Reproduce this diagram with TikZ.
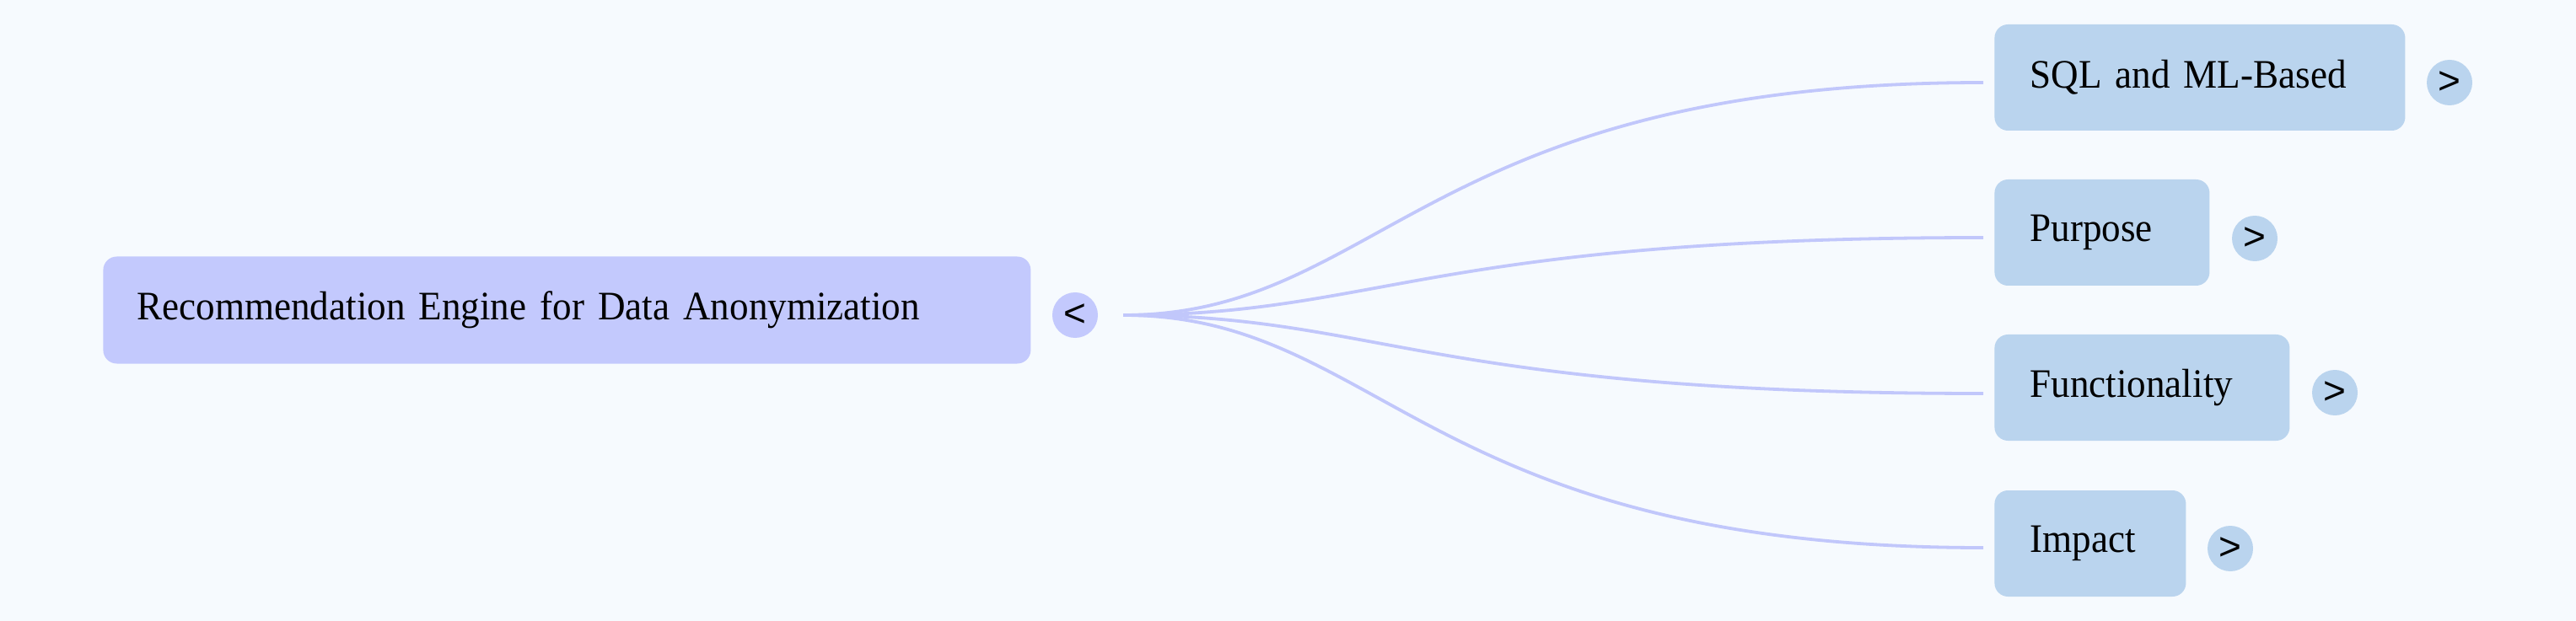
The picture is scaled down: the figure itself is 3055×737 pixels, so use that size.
\documentclass[tikz,border=0pt]{standalone}
\usepackage{fontspec}
\usetikzlibrary{calc}
\setmainfont{Liberation Serif}[FakeStretch=0.94]
\newfontfamily\arrowfont{Liberation Sans}
\definecolor{bgc}{HTML}{F6FAFE}
\definecolor{rootc}{HTML}{C3C9FD}
\definecolor{kidc}{HTML}{BAD4EE}
\definecolor{linec}{HTML}{C1C7FB}
\tikzset{
  rootbox/.style={anchor=west, fill=rootc, rounded corners=8pt, minimum height=63.5pt,
    inner xsep=20pt, inner ysep=0pt, align=left, font=\fontsize{24}{28}\selectfont},
  kidbox/.style={anchor=west, fill=kidc, rounded corners=8pt, minimum height=63pt,
    inner xsep=21pt, inner ysep=0pt, align=left, font=\fontsize{24}{28}\selectfont},
  rootknob/.style={circle, fill=rootc, minimum size=27pt, inner sep=0pt, font=\arrowfont\fontsize{23}{23}\selectfont},
  kidknob/.style={circle, fill=kidc, minimum size=27pt, inner sep=0pt, font=\arrowfont\fontsize{23}{23}\selectfont},
  link/.style={draw=linec, line width=1.9pt}
}
\begin{document}
\begin{tikzpicture}[x=0.5pt, y=-0.5pt]
\fill[bgc] (0,0) rectangle (3055,737);
\useasboundingbox (0,0) rectangle (3055,737);

\node[rootbox, text width=510pt] (root) at (122,368) {Recommendation Engine for Data Anonymization};
\node[rootknob] (rk) at (1275,374) {<};

\node[kidbox, text width=201.5pt] (sql) at (2365,92) {SQL and ML-Based};
\node[kidbox, text width=85.5pt] (purpose) at (2365,276) {Purpose};
\node[kidbox, text width=133pt] (func) at (2365,460) {Functionality};
\node[kidbox, text width=71.5pt] (impact) at (2365,645) {Impact};

\node[kidknob] (k1) at (2905,98) {>};
\node[kidknob] (k2) at (2674,283) {>};
\node[kidknob] (k3) at (2769,466) {>};
\node[kidknob] (k4) at (2645,651) {>};

\coordinate (s) at (1332,374);
\coordinate (e1) at (2352,98);
\coordinate (e2) at (2352,282);
\coordinate (e3) at (2352,467);
\coordinate (e4) at (2352,650);

\foreach \e in {e1,e2,e3,e4}{
  \draw[link] (s) .. controls ($(s)!0.3!(s-|\e)$) and ($(\e)!0.65!(\e-|s)$) .. (\e);
}
\end{tikzpicture}
\end{document}
